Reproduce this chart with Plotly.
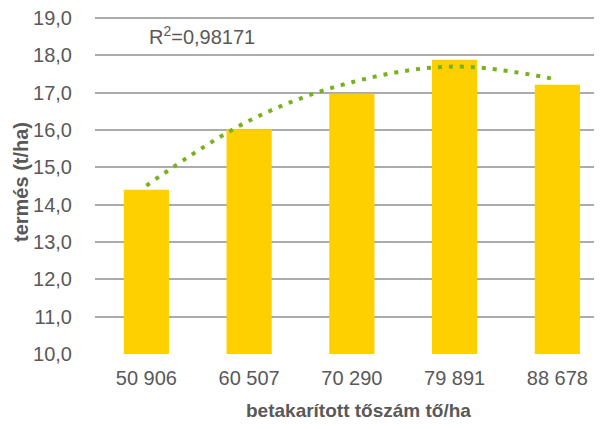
import plotly.graph_objects as go

categories = ["50 906", "60 507", "70 290", "79 891", "88 678"]
yields = [14.40, 16.02, 16.97, 17.88, 17.21]
trend = [14.51, 16.25, 17.28, 17.70, 17.35]
y_ticks = [10, 11, 12, 13, 14, 15, 16, 17, 18, 19]
r2_label = "R<sup>2</sup>=0,98171"
x_title = "betakarított tőszám tő/ha"
y_title = "termés (t/ha)"

FONT = "Liberation Sans"
TXT = "#595959"

# page body has an 8px default margin; compensate so the screenshot matches
OFF = 8
W, H = 602, 429
ML, MR, MT, MB = 87, 0, 8, 83
pw, ph = W - ML - MR, H - MT - MB
unit = 336 / 9.0
y_top = 19 + (10 - MT) / unit


def px(x):
    return (x - OFF - ML) / pw


def py(y):
    return (H - MB - (y - OFF)) / ph


fig = go.Figure()
fig.add_trace(go.Bar(x=categories, y=yields, marker=dict(color="#FFD000", line=dict(width=0)),
                     width=0.44, base=0, hoverinfo="skip"))
fig.add_trace(go.Scatter(x=categories, y=trend, mode="lines",
                         line=dict(color="#76B21D", width=4, dash="4px,7px", shape="spline", smoothing=1.0),
                         hoverinfo="skip"))

fig.update_layout(
    width=W, height=H,
    margin=dict(l=ML, r=MR, t=MT, b=MB, autoexpand=False),
    paper_bgcolor="white", plot_bgcolor="white",
    showlegend=False,
    separators=", ",
    font=dict(family=FONT, color=TXT, size=17),
    xaxis=dict(type="category", range=[-0.5, -0.5 + pw / 102.75], showgrid=False, zeroline=False, showline=False,
               automargin=False, ticks="", tickfont=dict(size=20, color=TXT), ticklabelstandoff=10,
               ticklabeloverflow="allow"),
    yaxis=dict(range=[10, y_top], tickvals=y_ticks, tickformat=".1f", showgrid=True, gridcolor="#ABABAB",
               gridwidth=1.5, automargin=False, zeroline=False, showline=False, ticks="",
               tickfont=dict(size=20, color=TXT), ticklabelstandoff=22, ticklabeloverflow="allow"),
    annotations=[
        dict(text=r2_label, x=px(147), y=py(36), xref="paper", yref="paper", xanchor="left", yanchor="middle",
             showarrow=False, font=dict(size=20, color=TXT)),
        dict(text="<b>" + x_title + "</b>", x=px(358), y=py(410), xref="paper", yref="paper",
             xanchor="center", yanchor="middle", showarrow=False, font=dict(size=19, color=TXT)),
        dict(text="<b>" + y_title + "</b>", x=px(21), y=py(182), xref="paper", yref="paper",
             xanchor="center", yanchor="middle", showarrow=False, textangle=-90, font=dict(size=20, color=TXT)),
    ],
)
fig.write_html("out.html")
